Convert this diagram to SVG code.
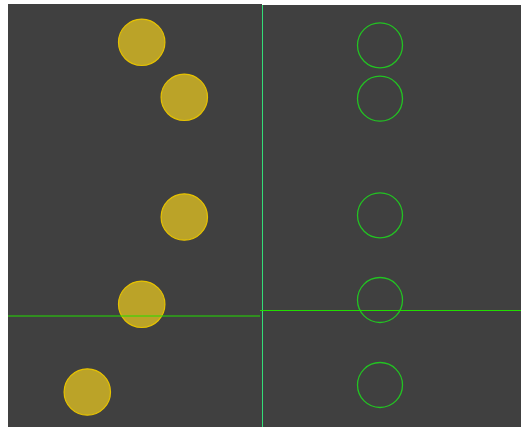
<svg xmlns="http://www.w3.org/2000/svg" width="521" height="427" viewBox="0 0 521 427">
<style>
.bg{fill:#404040}
.y{fill:#bba328;stroke:#e6c200;stroke-width:1.2}
.g{fill:none;stroke:#22c322;stroke-width:1.3}
.h{stroke:#22dd00;stroke-width:1}
</style>
<rect width="521" height="427" fill="#ffffff"/>
<rect class="bg" x="8" y="4" width="254" height="423"/>
<rect class="bg" x="261" y="5" width="260" height="422"/>
<g id="y1"><circle class="y" cx="141.7" cy="42.3" r="23.2"/></g>
<g id="y2"><circle class="y" cx="184.3" cy="97.3" r="23.2"/></g>
<g id="y3"><circle class="y" cx="184.3" cy="217" r="23.2"/></g>
<g id="y4"><circle class="y" cx="141.7" cy="304.3" r="23.2"/></g>
<g id="y5"><circle class="y" cx="87.3" cy="392" r="23.2"/></g>
<g id="g1"><circle class="g" cx="380" cy="45.3" r="22.5"/></g>
<g id="g2"><circle class="g" cx="380" cy="98.7" r="22.5"/></g>
<g id="g3"><circle class="g" cx="380" cy="215.3" r="22.5"/></g>
<g id="g4"><circle class="g" cx="380" cy="300" r="22.5"/></g>
<g id="g5"><circle class="g" cx="380" cy="385" r="22.5"/></g>
<g id="connectors">
<line x1="262.5" y1="5" x2="262.5" y2="427" stroke="#33dd77" stroke-width="1"/>
<line class="h" x1="8" y1="316" x2="260" y2="316" stroke-width="1.2"/>
<line class="h" x1="260" y1="310.5" x2="521" y2="310.5"/>
</g>
</svg>
